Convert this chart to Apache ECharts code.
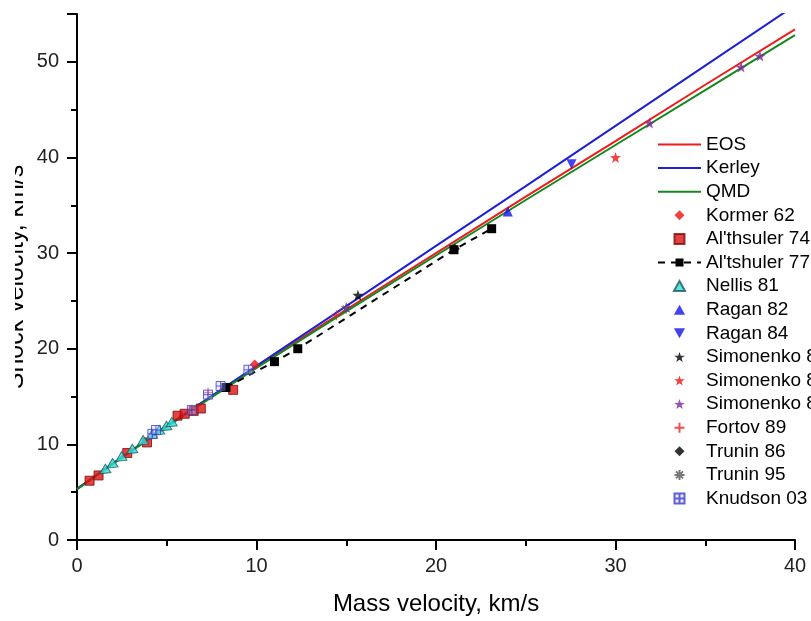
<!DOCTYPE html>
<html>
<head>
<meta charset="utf-8">
<script src="https://cdn.jsdelivr.net/npm/echarts@6/dist/echarts.min.js"></script>
<style>
    html, body { margin: 0; padding: 0; background: #fff; }
    #chart { width: 811px; height: 621px; }
</style>
</head>
<body>
<div id="chart"></div>
<script>
// model curves: [mass velocity, shock velocity]
const eosCurve = [[0, 5.35], [2, 8.0], [5, 11.9], [10, 18.1], [15, 24.1], [20, 30.0], [25, 35.9], [30, 41.7], [35, 47.6], [40, 53.4]]
const kerleyCurve = [[0, 5.35], [2, 8.0], [5, 11.9], [10, 18.2], [15, 24.45], [20, 30.75], [25, 37.0], [30, 43.3], [35, 49.6], [40, 55.9]]
const qmdCurve = [[0, 5.3], [2, 7.95], [5, 11.85], [10, 18.0], [15, 23.9], [20, 29.75], [25, 35.55], [30, 41.3], [35, 47.05], [40, 52.8]]

// experiments
const kormer62 = [[9.9, 18.35]]
const althsuler74 = [[0.7, 6.2], [1.2, 6.75], [2.8, 9.1], [3.9, 10.2], [5.6, 13.0], [6.0, 13.2], [6.5, 13.5], [6.9, 13.75], [8.7, 15.7]]
const altshuler77 = [[8.3, 15.95], [11.0, 18.65], [12.3, 20.0], [21.0, 30.35], [23.1, 32.55]]
const nellis81 = [[1.5, 7.2], [1.9, 7.8], [2.4, 8.5], [3.0, 9.3], [3.6, 10.2], [4.1, 10.8], [4.5, 11.25], [4.9, 11.7], [5.2, 12.1]]
const ragan82 = [[24.0, 34.35]]
const ragan84 = [[27.55, 39.3]]
const simonenkoBlack = [[15.65, 25.6]]
const simonenkoRed = [[30.0, 40.0]]
const simonenkoPurple = [[15.0, 24.3], [31.9, 43.6], [37.0, 49.45], [38.05, 50.6]]
const fortov89 = [[7.3, 15.4], [14.45, 23.5]]
const trunin86 = [[21.05, 30.45]]
const trunin95 = [[15.0, 24.2]]
const knudson03 = [[4.2, 11.1], [4.4, 11.5], [6.4, 13.6], [7.3, 15.2], [8.0, 16.1], [9.55, 17.8]]

const xTicks = [0, 10, 20, 30, 40]
const yTicks = [0, 10, 20, 30, 40, 50]

const font = "'Liberation Sans', Arial, sans-serif"
// path symbols keep their aspect in the legend
const starPath = 'path://M10,0L12.35,6.76L19.51,6.91L13.8,11.24L15.88,18.09L10,14L4.12,18.09L6.2,11.24L0.49,6.91L7.65,6.76Z'
const plusPath = 'path://M5,0V10M0,5H10'
const asteriskPath = 'path://M5,0V10M0,5H10M1.5,1.5L8.5,8.5M8.5,1.5L1.5,8.5'
const crossBoxPath = 'path://M0,0H10V10H0ZM5,0V10M0,5H10'
const triUpPath = 'path://M5,0L10,9H0Z'
const triDownPath = 'path://M0,0H10L5,9Z'
const diamondPath = 'path://M5,0L10,5L5,10L0,5Z'
const squarePath = 'path://M0,0H10V10H0Z'
const linePath = 'path://M0,0H43V2H0Z'

const curve = (name, data, color) => ({
    name, type: 'line', data, showSymbol: false, symbol: 'none',
    lineStyle: { color, width: 2 }, itemStyle: { color }, z: 2
})

const points = (name, data, symbol, size, style, extra) => Object.assign({
    name, type: 'scatter', data, symbol, symbolSize: size, itemStyle: style, z: 3
}, extra || {})

const legendNames = ['EOS', 'Kerley', 'QMD', 'Kormer 62', "Al'thsuler 74", "Al'tshuler 77", 'Nellis 81',
    'Ragan 82', 'Ragan 84', 'Simonenko 85', 'Simonenko 86', 'Simonenko 87',
    'Fortov 89', 'Trunin 86', 'Trunin 95', 'Knudson 03']

const chart = echarts.init(document.getElementById('chart'), null, { renderer: 'canvas' })
chart.setOption({
    animation: false,
    backgroundColor: '#fff',
    grid: { left: 77, right: 16, top: 14, bottom: 81 },
    xAxis: {
        type: 'value', min: 0, max: 40, interval: 10,
        name: 'Mass velocity, km/s', nameLocation: 'middle', nameGap: 52,
        nameTextStyle: { fontFamily: font, fontSize: 24, color: '#000' },
        axisLine: { onZero: false, lineStyle: { color: '#000', width: 2 } },
        axisTick: { inside: false, length: 10, lineStyle: { color: '#000', width: 2 } },
        minorTick: { show: true, splitNumber: 2, length: 6, lineStyle: { color: '#000', width: 2 } },
        axisLabel: { fontFamily: font, fontSize: 20, color: '#222', margin: 16,
            formatter: v => xTicks.includes(v) ? String(v) : '' },
        splitLine: { show: false }
    },
    yAxis: {
        type: 'value', min: 0, max: 55, interval: 10,
        axisLine: { show: true, onZero: false, lineStyle: { color: '#000', width: 2 } },
        axisTick: { show: true, inside: false, length: 10, lineStyle: { color: '#000', width: 2 } },
        minorTick: { show: true, splitNumber: 2, length: 6, lineStyle: { color: '#000', width: 2 } },
        axisLabel: { fontFamily: font, fontSize: 20, color: '#222', margin: 18,
            formatter: v => yTicks.includes(v) ? String(v) : '' },
        splitLine: { show: false }
    },
    legend: {
        orient: 'vertical', left: 657, top: 135, padding: 0,
        itemWidth: 43, itemHeight: 10, itemGap: 4.6,
        symbolRotate: 0,
        textStyle: { fontFamily: font, fontSize: 19, color: '#000' },
        data: legendNames.map((name, i) => i < 3 ? { name, icon: linePath } : { name })
    },
    graphic: [
        {
            type: 'text', x: 29, y: 277, rotation: Math.PI / 2, z: 10,
            style: { text: 'Shock velocity, km/s', font: '25px ' + font, fill: '#000',
                textAlign: 'center', textVerticalAlign: 'bottom' }
        },
        { type: 'rect', shape: { x: 0, y: 0, width: 15, height: 621 }, style: { fill: '#fff' }, z: 11 }
    ],
    series: [
        curve('EOS', eosCurve, '#ee1c1c'),
        curve('Kerley', kerleyCurve, '#1f1fd6'),
        curve('QMD', qmdCurve, '#14881c'),
        points('Kormer 62', kormer62, diamondPath, 10, { color: '#ee1111' }),
        points("Al'thsuler 74", althsuler74, squarePath, 9, { color: '#dd1111', borderColor: '#7a0a0a', borderWidth: 1 }),
        {
            name: "Al'tshuler 77", type: 'line', data: altshuler77, symbol: 'rect', symbolSize: 9,
            showSymbol: true, lineStyle: { color: '#000', width: 2, type: [7, 6] },
            itemStyle: { color: '#000' }, z: 3
        },
        points('Nellis 81', nellis81, triUpPath, 10, { color: '#33dddd', borderColor: '#1a5a5a', borderWidth: 1 }, { symbolRotate: 123 }),
        points('Ragan 82', ragan82, triUpPath, 10, { color: '#1111ee' }),
        points('Ragan 84', ragan84, triDownPath, 10, { color: '#1111ee' }),
        points('Simonenko 85', simonenkoBlack, starPath, 11, { color: '#000' }),
        points('Simonenko 86', simonenkoRed, starPath, 11, { color: '#ee1111' }),
        points('Simonenko 87', simonenkoPurple, starPath, 11, { color: '#7a2a9a' }),
        points('Fortov 89', fortov89, plusPath, 10, { color: 'rgba(0,0,0,0)', borderColor: '#ee2222', borderWidth: 1 }),
        points('Trunin 86', trunin86, diamondPath, 10, { color: '#000' }),
        points('Trunin 95', trunin95, asteriskPath, 10, { color: 'rgba(0,0,0,0)', borderColor: '#555', borderWidth: 1 }),
        points('Knudson 03', knudson03, crossBoxPath, 9, { color: 'rgba(200,200,255,0.4)', borderColor: '#3a3ad0', borderWidth: 1 })
    ]
})
</script>
</body>
</html>
